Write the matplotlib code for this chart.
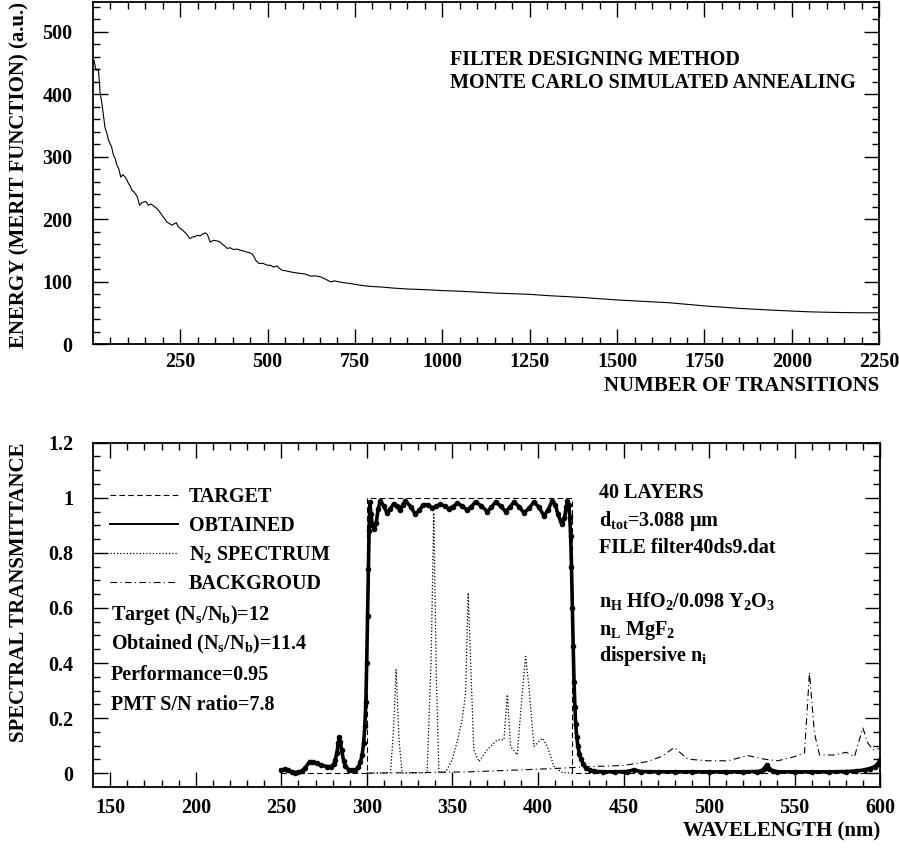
import matplotlib
matplotlib.use("Agg")
from matplotlib import pyplot as plt
from matplotlib.ticker import MultipleLocator, FormatStrFormatter

# ---- upper panel: energy vs number of transitions ----
transitions = [0, 4, 8, 11, 16, 21, 26, 30, 35, 40, 45, 50, 54, 59, 64, 69,
               74, 80, 86, 93, 98, 102, 107, 112, 117, 121, 127, 134, 140,
               145, 152, 159, 166, 174, 181, 188, 193, 198, 205, 212, 219,
               226, 232, 239, 244, 250, 257, 265, 271, 277, 285, 293, 300,
               307, 315, 322, 328, 336, 345, 355, 362, 370, 377, 384, 393,
               403, 412, 422, 431, 441, 449, 456, 461, 466, 475, 487, 499,
               508, 518, 527, 534, 542, 553, 565, 580, 594, 608, 623, 637,
               651, 665, 680, 692, 704, 720, 740, 760, 780, 800, 830, 860,
               900, 950, 1000, 1050, 1100, 1150, 1200, 1250, 1300, 1350,
               1400, 1450, 1500, 1550, 1600, 1650, 1700, 1750, 1800, 1850,
               1900, 1950, 2000, 2050, 2100, 2150, 2200, 2250]
energy = [457, 453, 441, 438, 440, 402, 385, 368, 346, 338, 326, 320, 315,
          302, 297, 286, 281, 267, 271, 267, 262, 257, 253, 246, 244, 241,
          236, 222, 226, 227, 228, 222, 224, 221, 218, 214, 210, 206, 201,
          195, 193, 190, 192, 194, 188, 185, 182, 178, 174, 169, 171, 172,
          174, 173, 176, 178, 175, 163, 166, 165, 164, 160, 157, 153, 154,
          151, 152, 150, 149, 147, 146, 144, 140, 134, 129, 129, 126, 126,
          123, 125, 121, 118, 117, 115.5, 114, 113, 112, 108.6, 109, 107.5,
          104, 99.5, 101, 99.5, 98, 96.5, 94.5, 93, 92, 91, 89.5, 88, 87,
          85.5, 84.5, 83, 81.5, 80.5, 79.5, 77.5, 76, 74.5, 72.5, 70.5, 69,
          67.5, 66, 63.5, 61, 59, 57, 55.5, 54, 52.7, 51.5, 50.8, 50.3, 50,
          50]

# ---- lower panel: spectral transmittance ----
obt_wl = [250, 252, 254, 256, 258, 260, 262, 264, 266.5, 268.5, 270.8,
          273, 276.7, 279, 280.6, 281.5, 282.5, 283.3, 283.9, 284.5, 285.2,
          286.4, 287.5, 289.3, 291.5, 293.3, 295, 296.2, 297.2, 298.1,
          298.8, 299.4, 299.9, 300.4, 300.9, 301.3, 301.7, 302.4, 303.2,
          304.4, 305.5, 306.6, 307.9, 309.8, 311.8, 313.7, 315.7, 317.5,
          319.2, 320.9, 322.5, 325.5, 328.4, 330.7, 333, 335.6, 338.2,
          340.6, 343, 345.5, 347.9, 350.4, 352.8, 355.7, 358.7, 361.1,
          363.5, 366.9, 370.4, 372.8, 375.2, 378.2, 381.1, 383.5, 386,
          388.9, 391.8, 394.8, 397.7, 400.6, 403.5, 405.9, 408.4, 410.1,
          411.7, 413.2, 414.3, 415.5, 416.5, 417.2, 418.0, 418.6, 419.1,
          419.6, 420.1, 420.6, 421.1, 421.6, 422.0, 422.7, 423.4, 424.2,
          425.2, 426.4, 428, 430.5, 433, 438, 445, 452, 456.2, 460, 470,
          480, 490, 500, 510, 520, 528, 530.5, 532.2, 533.7, 535.3, 537.2,
          540, 550, 560, 570, 580, 586, 590.9, 594, 596.8, 598.6, 600]
obt_tr = [0.012, 0.014, 0.011, 0.005, 0.002, 0.003, 0.008, 0.02, 0.042,
          0.041, 0.036, 0.03, 0.024, 0.024, 0.032, 0.048, 0.075, 0.11, 0.131,
          0.112, 0.085, 0.045, 0.025, 0.013, 0.01, 0.012, 0.022, 0.04, 0.065,
          0.11, 0.17, 0.26, 0.4, 0.57, 0.74, 0.88, 0.985, 0.94, 0.9, 0.885,
          0.91, 0.96, 0.99, 0.97, 0.945, 0.96, 0.978, 0.97, 0.955, 0.972,
          0.99, 0.968, 0.94, 0.955, 0.975, 0.975, 0.963, 0.97, 0.976, 0.97,
          0.96, 0.968, 0.98, 0.97, 0.955, 0.968, 0.985, 0.97, 0.95, 0.965,
          0.985, 0.97, 0.95, 0.965, 0.985, 0.968, 0.945, 0.962, 0.985, 0.965,
          0.935, 0.955, 0.99, 0.975, 0.94, 0.915, 0.905, 0.925, 0.965, 0.99,
          0.975, 0.93, 0.86, 0.75, 0.6, 0.46, 0.33, 0.24, 0.18, 0.13, 0.097,
          0.07, 0.05, 0.034, 0.018, 0.01, 0.007, 0.005, 0.005, 0.006, 0.012,
          0.006, 0.005, 0.005, 0.005, 0.005, 0.005, 0.005, 0.006, 0.008,
          0.016, 0.03, 0.016, 0.008, 0.005, 0.005, 0.005, 0.005, 0.006,
          0.008, 0.012, 0.017, 0.024, 0.034, 0.048]

target_wl = [250, 300, 300, 420, 420, 600]
target_tr = [0, 0, 1, 1, 0, 0]

n2_wl = [300, 313.8, 315.5, 317.1, 318.8, 320.6, 335.2, 337.5, 339.1, 340.6,
         342.1, 346, 349.9, 353, 355.7, 357.7, 359.2, 360.6, 362.5, 365.5,
         370.3, 376.2, 380.1, 382.1, 384, 387.9, 390.8, 392.8, 394.7, 397.7,
         402.6, 405.5, 409.4, 414.3, 421]
n2_tr = [0.0, 0.002, 0.15, 0.376, 0.12, 0.0, 0.002, 0.4, 0.945, 0.35, 0.004,
         0.004, 0.049, 0.12, 0.194, 0.29, 0.655, 0.412, 0.085, 0.042, 0.085,
         0.121, 0.121, 0.285, 0.097, 0.067, 0.29, 0.424, 0.315, 0.097, 0.127,
         0.097, 0.024, 0.002, 0.0]

bg_wl = [300, 330, 360, 390, 413, 431, 450, 464, 472, 479.7, 487.5, 499,
         511, 522.6, 532.3, 540.2, 549.9, 555.8, 558.7, 561.6, 564.6, 573.3,
         580.2, 585, 589.9, 592.9, 595.8, 600]
bg_tr = [0.0, 0.002, 0.005, 0.012, 0.018, 0.024, 0.028, 0.042, 0.06, 0.093,
         0.051, 0.045, 0.045, 0.064, 0.051, 0.045, 0.06, 0.073, 0.366, 0.145,
         0.066, 0.066, 0.076, 0.06, 0.164, 0.109, 0.085, 0.09]

plt.rcParams["font.family"] = ["Liberation Serif", "DejaVu Serif"]
plt.rcParams["font.weight"] = "bold"
plt.rcParams["axes.labelweight"] = "bold"
plt.rcParams["font.size"] = 14.5
plt.rcParams["mathtext.fontset"] = "custom"
plt.rcParams["mathtext.rm"] = "Liberation Serif:bold"
plt.rcParams["mathtext.it"] = "Liberation Serif:bold"
plt.rcParams["mathtext.bf"] = "Liberation Serif:bold"


def style_axes(ax, ypad, xpad):
    for sp in ax.spines.values():
        sp.set_linewidth(1.3)
    ax.tick_params(which="both", direction="in", top=True, right=True,
                   width=1.0, labelsize=14.5)
    ax.tick_params(which="major", length=10.5)
    ax.tick_params(which="minor", length=5)
    ax.tick_params(axis="y", pad=ypad)
    ax.tick_params(axis="x", pad=xpad)


fig = plt.figure(figsize=(8.99, 8.49), dpi=100)

# upper panel
ax1 = fig.add_axes([0.104, 0.5948, 0.874, 0.4034])
ax1.plot(transitions, energy, color="black", lw=0.8)
ax1.set_xlim(2, 2250)
ax1.set_ylim(0, 548)
ax1.set_xticks(range(250, 2251, 250))
ax1.xaxis.set_minor_locator(MultipleLocator(50))
ax1.yaxis.set_major_locator(MultipleLocator(100))
ax1.yaxis.set_minor_locator(MultipleLocator(20))
style_axes(ax1, 15, 6)
ax1.set_ylabel("ENERGY (MERIT FUNCTION) (a.u.)", loc="top", fontsize=15)
ax1.yaxis.set_label_coords(-0.082, 1.0)
ax1.set_xlabel("NUMBER OF TRANSITIONS", loc="right", fontsize=15)
ax1.xaxis.set_label_coords(1.0, -0.092)
ax1.text(1021, 447, "FILTER DESIGNING METHOD", va="baseline", ha="left")
ax1.text(1021, 410, "MONTE CARLO SIMULATED ANNEALING", va="baseline",
         ha="left")

# lower panel
ax2 = fig.add_axes([0.104, 0.0734, 0.875, 0.4052])
l_target, = ax2.plot(target_wl, target_tr, color="black", lw=0.8,
                     dashes=(5, 3), label="TARGET")
l_n2, = ax2.plot(n2_wl, n2_tr, color="black", lw=0.9, dashes=(1, 1.6),
                 label="N$_2$ SPECTRUM")
l_bg, = ax2.plot(bg_wl, bg_tr, color="black", lw=0.8,
                 dashes=(6, 3, 1, 3), label="BACKGROUD")
l_obt, = ax2.plot(obt_wl, obt_tr, color="black", lw=2.6,
                  solid_joinstyle="round", label="OBTAINED")
ax2.plot(obt_wl, obt_tr, ls="none", marker="o", ms=3, color="black")
ax2.set_xlim(140.2, 600)
ax2.set_ylim(-0.049, 1.2)
ax2.xaxis.set_major_locator(MultipleLocator(50))
ax2.xaxis.set_minor_locator(MultipleLocator(10))
ax2.yaxis.set_major_locator(MultipleLocator(0.2))
ax2.yaxis.set_minor_locator(MultipleLocator(0.05))
ax2.yaxis.set_major_formatter(FormatStrFormatter("%g"))
style_axes(ax2, 14.5, 8)
ax2.set_ylabel("SPECTRAL TRANSMITTANCE", loc="top", fontsize=15)
ax2.yaxis.set_label_coords(-0.082, 1.0)
ax2.set_xlabel("WAVELENGTH (nm)", loc="right", fontsize=15)
ax2.xaxis.set_label_coords(1.0, -0.1)

leg = ax2.legend(handles=[l_target, l_obt, l_n2, l_bg], loc="upper left",
                 bbox_to_anchor=(0.021, 0.87), frameon=False, borderpad=0,
                 borderaxespad=0, handlelength=3.4, handletextpad=0.5,
                 labelspacing=0.42, fontsize=14.5)
for h in leg.get_lines():
    if h.get_label() == "OBTAINED":
        h.set_linewidth(1.4)

left_notes = ["Target (N$_s$/N$_b$)=12", "Obtained (N$_s$/N$_b$)=11.4",
              "Performance=0.95", "PMT S/N ratio=7.8"]
left_y = [0.557, 0.448, 0.339, 0.230]
for txt, yy in zip(left_notes, left_y):
    ax2.text(150.4, yy, txt, va="baseline", ha="left")

right_notes = ["40 LAYERS", "d$_{tot}$=3.088 \u03bcm", "FILE filter40ds9.dat",
               "n$_H$ HfO$_2$/0.098 Y$_2$O$_3$", "n$_L$ MgF$_2$",
               "dispersive n$_i$"]
right_y = [1.0, 0.899, 0.8, 0.604, 0.503, 0.406]
for txt, yy in zip(right_notes, right_y):
    ax2.text(435.7, yy, txt, va="baseline", ha="left")

fig.savefig("out.png", dpi=100)
